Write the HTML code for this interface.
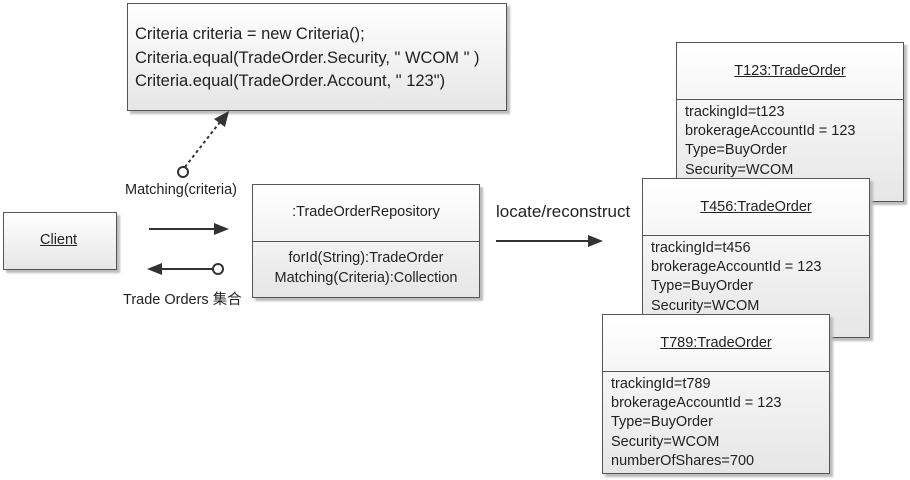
<!DOCTYPE html>
<html><head><meta charset="utf-8"><style>
body{margin:0;width:910px;height:480px;background:#fff;position:relative;overflow:hidden;font-family:"Liberation Sans","Noto Sans CJK SC",sans-serif;color:#222}
.b{position:absolute;border:1px solid #555;background:linear-gradient(#fff,#e6e6e6);box-shadow:3px 3px 2px #bbb;box-sizing:border-box}
.t{position:absolute;font-size:14.5px;white-space:nowrap}
.u{text-decoration:underline}
.div{position:absolute;left:0;right:0;border-top:1px solid #555}
.lines{position:absolute;left:8px;font-size:14.5px;line-height:19.2px;white-space:nowrap}
</style></head><body>
<div class="b" style="left:127px;top:3px;width:380px;height:108px">
<div class="lines" style="left:7px;top:19px;font-size:16.5px;line-height:23.5px">Criteria criteria = new Criteria();<br>Criteria.equal(TradeOrder.Security, " WCOM " )<br>Criteria.equal(TradeOrder.Account, " 123")</div></div>
<div class="b" style="left:3px;top:212px;width:114px;height:58px"><div class="t u" style="left:36px;top:19px">Client</div></div>
<div class="b" style="left:252px;top:184px;width:228px;height:114px">
<div class="t" style="left:0;right:0;text-align:center;top:19px">:TradeOrderRepository</div>
<div class="div" style="top:56px"></div>
<div class="t" style="left:0;right:0;text-align:center;top:64px;line-height:19.5px">forId(String):TradeOrder<br>Matching(Criteria):Collection</div></div>
<div class="t" style="left:125px;top:182px">Matching(criteria)</div>
<div class="t" style="left:123px;top:288px">Trade Orders 集合</div>
<div class="t" style="left:496px;top:202px;font-size:17px">locate/reconstruct</div>

<div class="b" style="left:676px;top:42px;width:228px;height:160px">
<div class="t u" style="left:0;right:0;text-align:center;top:20px">T123:TradeOrder</div>
<div class="div" style="top:56px"></div>
<div class="lines" style="top:60px">trackingId=t123<br>brokerageAccountId = 123<br>Type=BuyOrder<br>Security=WCOM</div></div>
<div class="b" style="left:642px;top:178px;width:228px;height:160px">
<div class="t u" style="left:0;right:0;text-align:center;top:20px">T456:TradeOrder</div>
<div class="div" style="top:56px"></div>
<div class="lines" style="top:60px">trackingId=t456<br>brokerageAccountId = 123<br>Type=BuyOrder<br>Security=WCOM</div></div>
<div class="b" style="left:602px;top:314px;width:228px;height:160px">
<div class="t u" style="left:0;right:0;text-align:center;top:20px">T789:TradeOrder</div>
<div class="div" style="top:56px"></div>
<div class="lines" style="top:60px">trackingId=t789<br>brokerageAccountId = 123<br>Type=BuyOrder<br>Security=WCOM<br>numberOfShares=700</div></div>

<svg width="910" height="480" style="position:absolute;left:0;top:0">
<g stroke="#333" stroke-width="2" fill="#333">
<line x1="185" y1="167" x2="220" y2="122" stroke-dasharray="3,3"/>
<polygon points="229,111 225,127 214,119" stroke="none"/>
<circle cx="183" cy="172" r="5" fill="#fff"/>
<line x1="149" y1="229" x2="216" y2="229"/>
<polygon points="229,229 214,223 214,235" stroke="none"/>
<line x1="160" y1="269" x2="213" y2="269"/>
<polygon points="147,269 162,263 162,275" stroke="none"/>
<circle cx="218" cy="269" r="5" fill="#fff"/>
<line x1="496" y1="241" x2="590" y2="241"/>
<polygon points="603,241 588,235 588,247" stroke="none"/>
</g></svg>
</body></html>
